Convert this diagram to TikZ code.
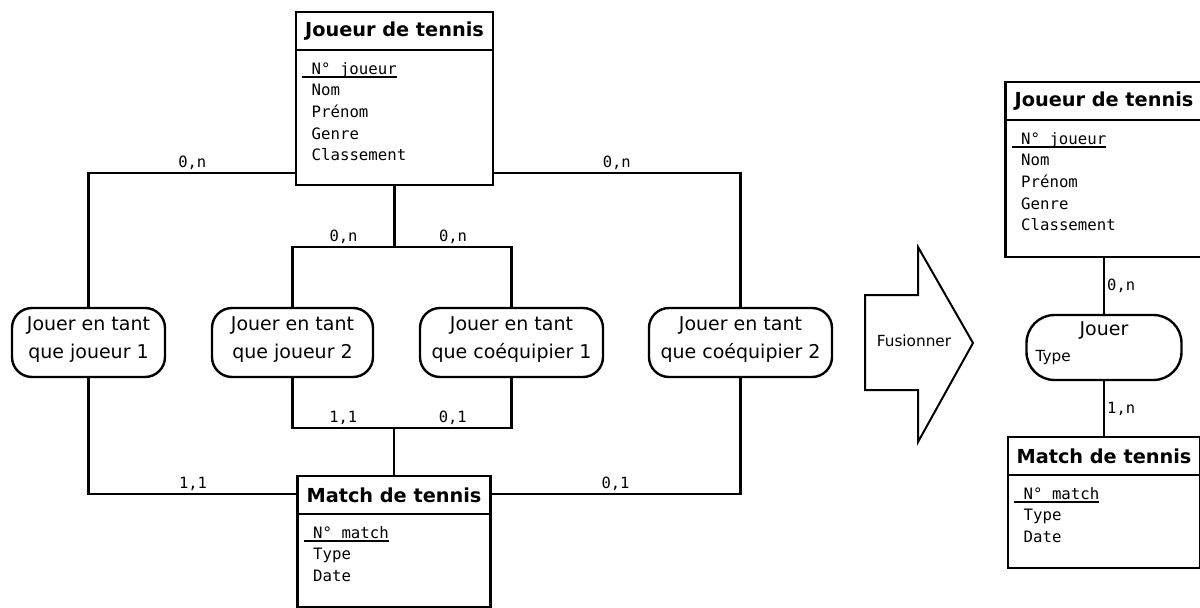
\documentclass[tikz,border=0pt]{standalone}
\usepackage{fontspec}
\setmainfont{DejaVu Sans}
\setmonofont{DejaVu Sans Mono}

% key attribute: text with a rule drawn a little below the baseline
\newcommand\keyattr[1]{\setbox0\hbox{#1}\rlap{\rule[-3.5pt]{\wd0}{1.3pt}}\box0}

% entity box: name, x, y (top left), width, height, title, key, other attributes
\newcommand\erentity[8]{%
  \node[entbox, anchor=north west, minimum width=#4pt, minimum height=#5pt] (#1) at (#2,#3) {};
  \draw[entsep] ([yshift=-38pt]#1.north west) -- ([yshift=-38pt]#1.north east);
  \node[enttitle] (#1-title) at ([yshift=-19.5pt]#1.north) {#6};
  \node[attr] (#1-key) at ([xshift=6pt,yshift=-62pt]#1.north west) {\keyattr{\ #7}};
  \foreach \attrname [count=\i] in {#8}
    \node[attr] (#1-a\i) at ([xshift=15.5pt,yshift={-62pt-21.7pt*\i}]#1.north west) {\attrname};
}

\begin{document}
\begin{tikzpicture}[x=1pt,y=-1pt,
  conn/.style={line width=2.4pt},
  entbox/.style={draw, line width=2.6pt, inner sep=0pt, outer sep=0pt, fill=white},
  entsep/.style={line width=2.4pt},
  enttitle/.style={font=\fontsize{19.3}{24}\selectfont\bfseries, inner sep=0pt},
  attr/.style={font=\ttfamily\fontsize{15.7}{18}\selectfont, inner sep=0pt, anchor=base west},
  card/.style={font=\ttfamily\fontsize{15.5}{18}\selectfont, inner sep=2pt},
  assoc/.style={draw, line width=2.4pt, rounded corners=20pt, align=center,
    font=\fontsize{19}{28}\selectfont, inner sep=0pt, outer sep=0pt, fill=white,
    text depth=10.5pt},
  assoctitle/.style={font=\fontsize{19}{24}\selectfont, inner sep=0pt},
  smalltext/.style={font=\fontsize{15.3}{18}\selectfont, inner sep=0pt},
  bigarrow/.style={line width=2pt, line join=miter},
]
\useasboundingbox (0,0) rectangle (1200,608);

% ---- detailed model ----
\erentity{J}{296}{12}{197}{173}{Joueur de tennis}{N°\ joueur}{Nom,Prénom,Genre,Classement}
\erentity{M}{297.5}{476}{193}{131}{Match de tennis}{N°\ match}{Type,Date}

\node[assoc, minimum width=153pt, minimum height=69pt] (A1) at (88.5,342.5) {Jouer en tant\\que joueur 1};
\node[assoc, minimum width=161pt, minimum height=69pt] (A2) at (292.5,342.5) {Jouer en tant\\que joueur 2};
\node[assoc, minimum width=183pt, minimum height=69pt] (A3) at (511.5,342.5) {Jouer en tant\\que coéquipier 1};
\node[assoc, minimum width=183pt, minimum height=69pt] (A4) at (740.5,342.5) {Jouer en tant\\que coéquipier 2};

\draw[conn] ([yshift=12pt]J.south west) -| node[card, pos=.25, above] {0,n} (A1.north);
\draw[conn] ([yshift=12pt]J.south east) -| node[card, pos=.25, above] {0,n} (A4.north);
\coordinate (jt) at ([yshift=-62pt]J.south);
\draw[conn] (J.south) -- (jt);
\draw[conn] (jt) -| node[card, pos=.25, above] {0,n} (A2.north);
\draw[conn] (jt) -| node[card, pos=.25, above] {0,n} (A3.north);

\coordinate (mt) at ([yshift=48pt]M.north);
\draw[conn] (M.north) -- (mt);
\draw[conn] (mt) -| node[card, pos=.25, above] {1,1} (A2.south);
\draw[conn] (mt) -| node[card, pos=.25, above] {0,1} (A3.south);
\draw[conn] (A1.south) |- node[card, pos=.75, above] {1,1} ([yshift=-18pt]M.north west);
\draw[conn] (A4.south) |- node[card, pos=.75, above] {0,1} ([yshift=-18pt]M.north east);

% ---- merge arrow ----
\draw[bigarrow] (865,295) -- (918,295) -- (918,247) -- (973,343) -- (918,442) -- (918,390) -- (865,390) -- cycle;
\node[smalltext] (fus) at (914,341) {Fusionner};

% ---- merged model ----
\erentity{J2}{1005.5}{82}{197}{175}{Joueur de tennis}{N°\ joueur}{Nom,Prénom,Genre,Classement}
\erentity{M2}{1008}{437}{192}{131}{Match de tennis}{N°\ match}{Type,Date}

\node[assoc, rounded corners=28pt, minimum width=155pt, minimum height=65pt] (R) at (1104,347.5) {};
\node[assoctitle, anchor=base] (R-title) at ([yshift=-20pt]R.north) {Jouer};
\node[smalltext, anchor=base west] (R-attr) at ([xshift=9pt,yshift=-46pt]R.north west) {Type};

\draw[conn] (J2.south) -- node[card, right] {0,n} (R.north);
\draw[conn] (R.south) -- node[card, right] {1,n} (M2.north);
\end{tikzpicture}
\end{document}
